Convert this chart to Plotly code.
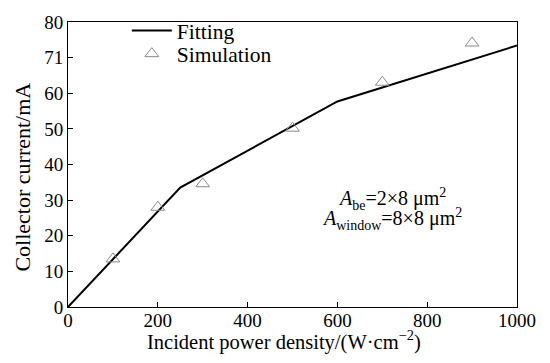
import plotly.graph_objects as go

fit_x = [0, 250, 600, 1000]
fit_y = [0, 33.5, 57.7, 73.4]
sim_x = [100, 200, 300, 500, 700, 900]
sim_y = [13.5, 28.0, 34.6, 50.2, 63.1, 74.1]
x_ticks = [0, 200, 400, 600, 800, 1000]
y_ticks = [0, 10, 20, 30, 40, 50, 60, 70, 80]
y_ticktext = ["0", "10", "20", "30", "40", "50", "60", "71", "80"]

FONT = "Liberation Serif"
def f(size):
    return dict(family=FONT, size=size, color="black")

TOP, BOT = 10, 307
H = BOT - TOP
def py(pix):
    return (BOT - pix) / H

fig = go.Figure()
fig.add_trace(go.Scatter(x=fit_x, y=fit_y, mode="lines", name="Fitting",
                         line=dict(color="black", width=2), legend="legend"))
fig.add_trace(go.Scatter(x=sim_x, y=sim_y, mode="markers", name="Simulation",
                         marker=dict(symbol="triangle-up-open", size=12,
                                     color="#8a8a8a", line=dict(width=1)),
                         legend="legend2"))

fig.add_annotation(x=(393 - 68) / 450, y=py(194), xref="paper", yref="paper",
                   xanchor="center", yanchor="middle",
                   text="<i>A</i><sub>be</sub>=2×8 μm<sup>2</sup>",
                   showarrow=False, font=f(20))
fig.add_annotation(x=(393 - 68) / 450, y=py(215), xref="paper", yref="paper",
                   xanchor="center", yanchor="middle",
                   text="<i>A</i><sub>window</sub>=8×8 μm<sup>2</sup>",
                   showarrow=False, font=f(20))
fig.add_annotation(x=(284 - 68) / 450, y=py(342), xref="paper", yref="paper",
                   xanchor="center", yanchor="middle",
                   text="Incident power density/(W·cm<sup>−2</sup>)",
                   showarrow=False, font=f(20.5))
fig.add_annotation(x=(22 - 68) / 450, y=py(172), xref="paper", yref="paper",
                   xanchor="center", yanchor="middle", textangle=-90,
                   text="Collector current/mA",
                   showarrow=False, font=f(22))

leg_common = dict(xanchor="left", yanchor="middle", bgcolor="rgba(0,0,0,0)",
                  font=f(21.5), itemwidth=40)

fig.update_layout(
    width=550, height=363,
    margin=dict(l=68, r=33, t=TOP, b=363 - BOT),
    paper_bgcolor="white", plot_bgcolor="white",
    font=f(19),
    showlegend=True,
    legend=dict(x=0.131, y=py(19), **leg_common),
    legend2=dict(x=0.131, y=py(43), **leg_common),
    xaxis=dict(range=[0, 1000], tickvals=x_ticks, ticks="inside", ticklen=5,
               tickcolor="black", showline=True, linecolor="black", linewidth=1,
               mirror=True, showgrid=False, zeroline=False,
               ticklabelstandoff=-4, tickfont=f(19)),
    yaxis=dict(range=[0, 80], tickvals=y_ticks, ticktext=y_ticktext, ticks="inside",
               ticklen=5, tickcolor="black", showline=True, linecolor="black",
               linewidth=1, mirror=True, showgrid=False, zeroline=False,
               tickfont=f(19)),
)

fig.write_html("out.html")
